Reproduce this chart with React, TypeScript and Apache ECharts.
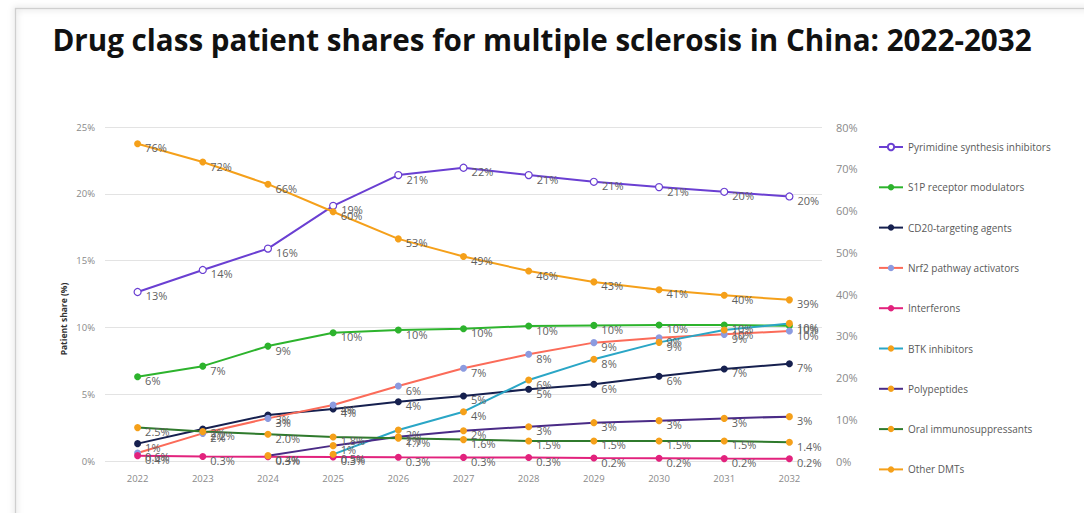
import React, { useEffect, useRef } from "react";
import * as echarts from "echarts";

const years = ["2022", "2023", "2024", "2025", "2026", "2027", "2028", "2029", "2030", "2031", "2032"];

const pyrimidine = [12.65, 14.3, 15.9, 19.1, 21.4, 21.95, 21.4, 20.9, 20.5, 20.15, 19.8];
const s1p = [6.3, 7.1, 8.6, 9.6, 9.8, 9.9, 10.1, 10.15, 10.18, 10.18, 10.13];
const cd20 = [1.3, 2.4, 3.44, 3.9, 4.44, 4.87, 5.37, 5.74, 6.34, 6.89, 7.28];
const nrf2 = [0.6, 2.07, 3.19, 4.19, 5.61, 6.94, 7.99, 8.86, 9.23, 9.48, 9.73];
const interferons = [0.4, 0.34, 0.32, 0.3, 0.28, 0.27, 0.26, 0.22, 0.2, 0.18, 0.17];
const btk = [null, null, null, 0.5, 2.32, 3.69, 6.06, 7.61, 8.88, 9.8, 10.3];
const polypeptides = [null, null, 0.4, 1.15, 1.82, 2.27, 2.57, 2.87, 3.02, 3.19, 3.32];
const oralImmuno = [2.5, 2.2, 2.0, 1.8, 1.7, 1.6, 1.5, 1.5, 1.5, 1.5, 1.4];
const otherDMTs = [76.0, 71.6, 66.3, 59.7, 53.2, 49.0, 45.5, 42.9, 41.0, 39.7, 38.6];

const leftTicks = { min: 0, max: 25, interval: 5 };
const rightTicks = { min: 0, max: 80, interval: 10 };

const seriesDefs = [
  { name: "Pyrimidine synthesis inhibitors", data: pyrimidine, line: "#6a3fd2", marker: "#ffffff", border: "#6a3fd2", dec: false, axis: 0 },
  { name: "S1P receptor modulators", data: s1p, line: "#2db32d", marker: "#2db32d", border: "#2db32d", dec: false, axis: 0 },
  { name: "CD20-targeting agents", data: cd20, line: "#16204f", marker: "#16204f", border: "#16204f", dec: false, axis: 0 },
  { name: "Nrf2 pathway activators", data: nrf2, line: "#fb6b59", marker: "#8c9be0", border: "#8c9be0", dec: false, axis: 0 },
  { name: "Interferons", data: interferons, line: "#e2227d", marker: "#e2227d", border: "#e2227d", dec: true, axis: 0 },
  { name: "BTK inhibitors", data: btk, line: "#2aa6c6", marker: "#f5a01a", border: "#f5a01a", dec: false, axis: 0 },
  { name: "Polypeptides", data: polypeptides, line: "#4a2b86", marker: "#f5a01a", border: "#f5a01a", dec: false, axis: 0 },
  { name: "Oral immunosuppressants", data: oralImmuno, line: "#2f7a2c", marker: "#f5a01a", border: "#f5a01a", dec: true, axis: 0 },
  { name: "Other DMTs", data: otherDMTs, line: "#f5a01a", marker: "#f5a01a", border: "#f5a01a", dec: false, axis: 1 },
];

export default function App() {
  const ref = useRef<HTMLDivElement>(null);
  useEffect(() => {
    document.body.style.margin = "0";
    const chart = echarts.init(ref.current!, null, { renderer: "svg" });
    const series = seriesDefs.map((s) => ({
      name: s.name,
      type: "line",
      yAxisIndex: s.axis,
      data: s.data,
      symbol: "circle",
      symbolSize: 7,
      showAllSymbol: true,
      connectNulls: false,
      lineStyle: { color: s.line, width: 2 },
      itemStyle: { color: s.marker, borderColor: s.border, borderWidth: s.marker === "#ffffff" ? 1.2 : 0 },
      emphasis: { disabled: true },
      label: {
        show: true,
        position: "right",
        distance: 4,
        offset: [0, 4],
        color: "#5f5f5f",
        fontSize: 11,
        fontFamily: "Open Sans",
        formatter: (p: any) => {
          const v = p.value as number;
          if (v == null) return "";
          if (s.dec) return v.toFixed(1) + "%";
          if (v < 1) return v.toFixed(1) + "%";
          return Math.round(v) + "%";
        },
      },
    }));
    chart.setOption({
      animation: false,
      backgroundColor: "#ffffff",
      title: {
        text: "Drug class patient shares for multiple sclerosis in China: 2022-2032",
        left: "center",
        top: 19,
        textStyle: { fontFamily: "Open Sans", fontWeight: "bold", fontSize: 29.6, color: "#111111" },
      },
      grid: { left: 105, right: 262, top: 127, bottom: 52, containLabel: false },
      legend: {
        orient: "vertical",
        left: 873,
        top: 137,
        itemWidth: 24,
        itemHeight: 8,
        itemGap: 30.3,
        textStyle: { fontFamily: "Open Sans", fontSize: 10, color: "#595959" },
        data: seriesDefs.map((s) => s.name),
      },
      xAxis: {
        type: "category",
        data: years,
        boundaryGap: true,
        axisLine: { show: false },
        axisTick: { show: false },
        axisLabel: { color: "#8a8a8a", fontSize: 9.5, fontFamily: "Open Sans", margin: 12 },
      },
      yAxis: [
        {
          type: "value",
          ...leftTicks,
          axisLine: { show: false },
          axisTick: { show: false },
          splitLine: { lineStyle: { color: "#e3e3e3", width: 1 } },
          axisLabel: { color: "#8a8a8a", fontSize: 9.5, fontFamily: "Open Sans", margin: 10, formatter: "{value}%" },
        },
        {
          type: "value",
          ...rightTicks,
          position: "right",
          axisLine: { show: false },
          axisTick: { show: false },
          splitLine: { show: false },
          axisLabel: { color: "#8a8a8a", fontSize: 11, fontFamily: "Open Sans", margin: 14, formatter: "{value}%" },
        },
      ],
      graphic: [
        {
          type: "rect",
          left: 13,
          top: 6,
          shape: { width: 1200, height: 700 },
          style: { fill: "none", stroke: "#cfcfcf", lineWidth: 1.5, shadowBlur: 6, shadowColor: "rgba(0,0,0,0.25)" },
          z: -1,
          silent: true,
        },
        {
          type: "text",
          x: 63,
          y: 319,
          rotation: Math.PI / 2,
          style: {
            text: "Patient share (%)",
            font: "bold 8.5px 'Open Sans'",
            fill: "#333333",
            align: "center",
            verticalAlign: "middle",
          },
          silent: true,
        },
      ],
      series,
    });
    return () => chart.dispose();
  }, []);
  return <div ref={ref} style={{ width: 1084, height: 513 }} />;
}
